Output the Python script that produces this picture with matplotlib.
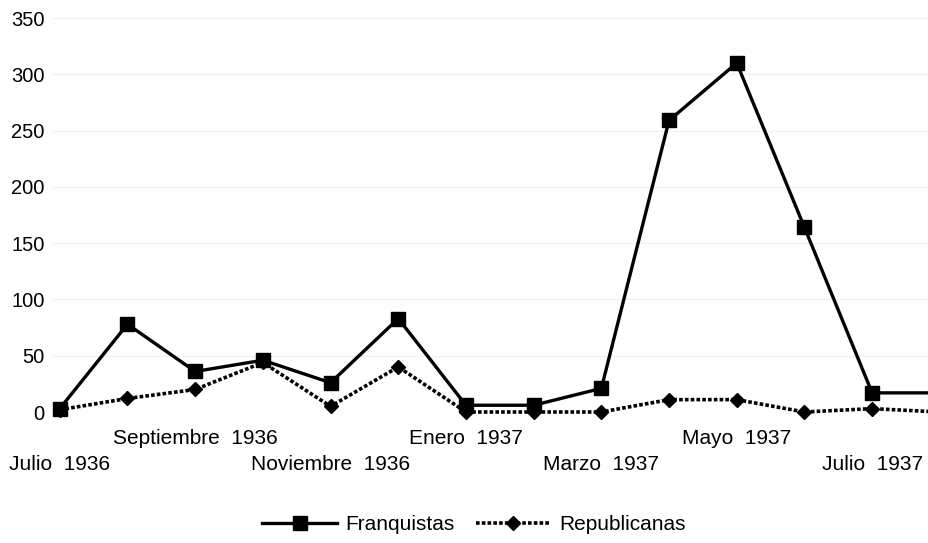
import matplotlib
matplotlib.use("Agg")
import matplotlib.pyplot as plt

meses = ["Julio  1936", "Agosto  1936", "Septiembre  1936", "Octubre  1936",
         "Noviembre  1936", "Diciembre  1936", "Enero  1937", "Febrero  1937",
         "Marzo  1937", "Abril  1937", "Mayo  1937", "Junio  1937",
         "Julio  1937", "Agosto  1937"]
franquistas = [3, 78, 36, 46, 26, 83, 6, 6, 21, 259, 310, 164, 17, 17]
republicanas = [2, 12, 20, 44, 5, 40, 0, 0, 0, 11, 11, 0, 3, 0]
yticks = [0, 50, 100, 150, 200, 250, 300, 350]

plt.rcParams['font.family'] = ['Liberation Sans', 'DejaVu Sans']

fig = plt.figure(figsize=(9.29, 5.43), dpi=100)
ax = fig.add_axes([53 / 929, 1 - 412 / 543, 1 - 53 / 929, 394 / 543])

x = list(range(len(meses)))
ax.plot(x, franquistas, color='black', lw=2.4, marker='s', ms=10,
        label='Franquistas', clip_on=False, zorder=3)
ax.plot(x, republicanas, color='black', lw=2.6, ls=(0, (1, 0.6)), marker='D',
        ms=7, label='Republicanas', clip_on=False, zorder=3)

ax.set_xlim(-0.1, 12.84)
ax.set_ylim(0, 350)
ax.set_yticks(yticks)
ax.yaxis.grid(True, color='#f2f2f2', lw=1)
ax.set_axisbelow(True)
for s in ax.spines.values():
    s.set_visible(False)

# two rows of month labels
ax.set_xticks(x[0::4])
ax.set_xticklabels(meses[0::4])
ax.set_xticks(x[2::4], minor=True)
ax.set_xticklabels(meses[2::4], minor=True)
ax.tick_params(axis='x', which='major', length=0, pad=31, labelsize=15)
ax.tick_params(axis='x', which='minor', length=0, pad=12, labelsize=15)
ax.tick_params(axis='y', length=0, pad=6, labelsize=14.5)

fig.legend(loc='center', bbox_to_anchor=(0.51, 1 - 525 / 543), ncol=2,
           frameon=False, fontsize=15, handlelength=3.6, columnspacing=1.0,
           handletextpad=0.4)

fig.savefig("out.png", dpi=100)
